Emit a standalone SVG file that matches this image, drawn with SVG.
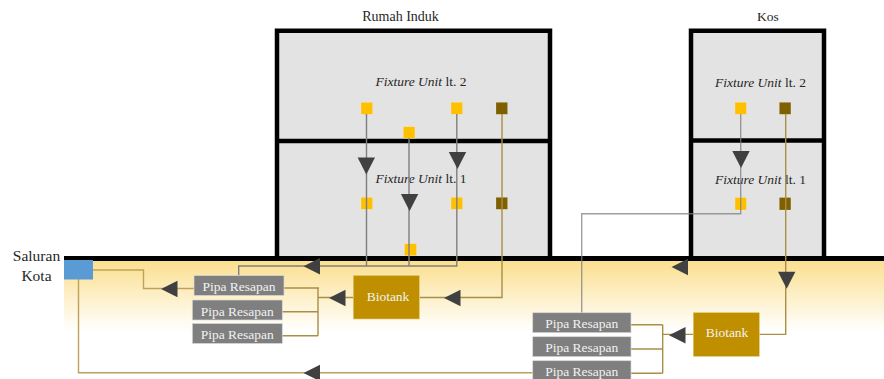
<svg xmlns="http://www.w3.org/2000/svg" width="884" height="379" viewBox="0 0 884 379">
<style>
text{font-family:"Liberation Serif","Times New Roman",serif;font-size:13.5px;fill:#262626;text-anchor:middle}
.room{fill:#e3e3e3}
.wall{fill:none;stroke:#000;stroke-width:4.5}
.sq{stroke:#fff;stroke-opacity:.3;stroke-width:.6}
.y{fill:#ffc000}
.b{fill:#7f6000}
.pipe rect{fill:#7f7f7f;stroke:#d9d9d9;stroke-width:.7}
.pipe text,.tank text{fill:#f2f2f2;font-size:13.5px}
.tank rect{fill:#bf8f00;stroke:#e0c870;stroke-width:.6}
.g{fill:none;stroke:#7f7f7f;stroke-width:1.4}
.o{fill:none;stroke:#a98e45;stroke-width:1.4}
.l{fill:none;stroke:#bfa25a;stroke-width:1.4}
.a{fill:#404040}
.city{font-size:15.5px}
</style>
<defs>
<linearGradient id="soil" x1="0" y1="0" x2="0" y2="1"><stop offset="0" stop-color="#fbdf8e"/><stop offset="1" stop-color="#fff"/></linearGradient>
<path id="dn" class="a" d="M-8.7 0H8.7L0 17Z"/>
<path id="lf" class="a" d="M0 0L16.5-8.2V8.2Z"/>
</defs>
<rect x="64" y="260" width="820" height="71" fill="url(#soil)"/>
<g id="rumah-induk">
<rect class="room" x="277" y="31" width="273" height="228"/>
<path class="wall" d="M277 259V30.7H550V259M277 141H550"/>
<text x="400.5" y="21" style="font-size:14px">Rumah Induk</text>
<text x="421" y="86"><tspan font-style="italic">Fixture Unit</tspan> lt. 2</text>
<text x="421" y="183"><tspan font-style="italic">Fixture Unit</tspan> lt. 1</text>
</g>
<g id="kos">
<rect class="room" x="691" y="31" width="133" height="228"/>
<path class="wall" d="M691 259V30.7H824V259M691 140.5H824"/>
<text x="768" y="21">Kos</text>
<text x="760.5" y="87"><tspan font-style="italic">Fixture Unit</tspan> lt. 2</text>
<text x="760.5" y="184"><tspan font-style="italic">Fixture Unit</tspan> lt. 1</text>
</g>
<g id="ground"><path d="M64 258.5H884" stroke="#000" stroke-width="5" fill="none"/></g>
<g id="fixtures">
<rect class="sq y" x="361" y="102.3" width="11.6" height="12"/>
<rect class="sq y" x="451" y="102.3" width="11.6" height="12"/>
<rect class="sq b" x="496" y="102.3" width="11.6" height="12"/>
<rect class="sq y" x="403.3" y="126.7" width="11.6" height="11.6"/>
<rect class="sq y" x="361" y="197.3" width="11.6" height="12"/>
<rect class="sq y" x="451" y="197.3" width="11.6" height="12"/>
<rect class="sq b" x="496" y="197.3" width="11.6" height="12"/>
<rect class="sq y" x="404.5" y="243.7" width="12" height="12"/>
<rect class="sq y" x="735" y="102.3" width="11.4" height="12"/>
<rect class="sq b" x="779.3" y="102.3" width="11.6" height="12"/>
<rect class="sq y" x="735" y="197.5" width="11.4" height="12.5"/>
<rect class="sq b" x="779.3" y="197.5" width="11.6" height="12.5"/>
</g>
<g id="connectors">
<path class="g" d="M366.5 114V266M409 138V266M456.8 114V266H238.7V275.5"/>
<path class="o" d="M502 114V297.5H419.5M353 297.5H318M284 288H319M282 311.7H318M282 335.7H318M318 288V335.7"/>
<path class="l" d="M93 270H143.5V288.5H194M78.5 279V372.8H192"/>
<path class="g" stroke-opacity=".75" d="M581.7 313V213.7H740.7V114"/>
<path class="o" d="M785.7 114V334.4H759.3M693.3 334.4H662.7M631 324.7H662.7M631 349H662.7M631 373.3H662.7M662.7 324.7V373.3"/>
<path class="l" d="M192 372.8H533"/>
<use href="#dn" x="366.3" y="157.5"/>
<use href="#dn" x="409.6" y="194"/>
<use href="#dn" x="457.5" y="152"/>
<use href="#dn" x="741" y="151"/>
<use href="#dn" x="786.7" y="271.7"/>
<use href="#lf" x="303.5" y="266.3"/>
<use href="#lf" x="444" y="298"/>
<use href="#lf" x="329" y="298"/>
<use href="#lf" x="161" y="289"/>
<use href="#lf" x="303.5" y="373"/>
<use href="#lf" x="671.5" y="267"/>
<use href="#lf" x="669" y="335.3"/>
</g>
<g id="saluran-kota">
<rect x="64" y="260" width="29" height="19.5" fill="#5b9bd5"/>
<text class="city" x="36.5" y="260.5">Saluran</text>
<text class="city" x="36.5" y="280.5">Kota</text>
</g>
<g id="pipa-1" class="pipe"><rect x="194" y="275.5" width="90" height="20"/><text x="239" y="291">Pipa Resapan</text></g>
<g id="pipa-2" class="pipe"><rect x="192.3" y="300" width="90" height="20"/><text x="237.3" y="315.5">Pipa Resapan</text></g>
<g id="pipa-3" class="pipe"><rect x="192.3" y="323.5" width="90" height="20"/><text x="237.3" y="339">Pipa Resapan</text></g>
<g id="biotank-1" class="tank"><rect x="353.3" y="275.5" width="66" height="43.5"/><text x="388" y="300.5">Biotank</text></g>
<g id="pipa-4" class="pipe"><rect x="532.7" y="312.7" width="98.3" height="20"/><text x="581.8" y="328">Pipa Resapan</text></g>
<g id="pipa-5" class="pipe"><rect x="532.7" y="336.7" width="98.3" height="20"/><text x="581.8" y="352">Pipa Resapan</text></g>
<g id="pipa-6" class="pipe"><rect x="532.7" y="360.7" width="98.3" height="20"/><text x="581.8" y="376">Pipa Resapan</text></g>
<g id="biotank-2" class="tank"><rect x="693.3" y="312.7" width="66" height="43.6"/><text x="727" y="337">Biotank</text></g>
</svg>
